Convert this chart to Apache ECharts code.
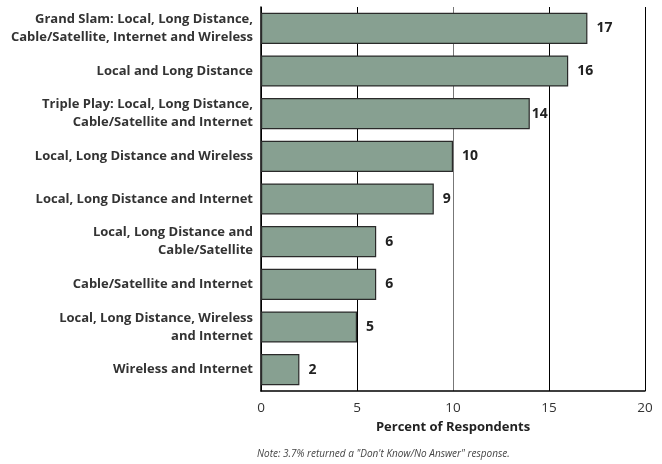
<!DOCTYPE html>
<html><head><meta charset="utf-8">
<script src="https://cdn.jsdelivr.net/npm/echarts@6/dist/echarts.min.js"></script>
<style>html,body{margin:0;padding:0;background:#fff}#c{width:662px;height:464px}</style>
</head><body><div id="c"></div>
<script>
var categories = [
  "Grand Slam: Local, Long Distance,\nCable/Satellite, Internet and Wireless",
  "Local and Long Distance",
  "Triple Play: Local, Long Distance,\nCable/Satellite and Internet",
  "Local, Long Distance and Wireless",
  "Local, Long Distance and Internet",
  "Local, Long Distance and\nCable/Satellite",
  "Cable/Satellite and Internet",
  "Local, Long Distance, Wireless\nand Internet",
  "Wireless and Internet"
];
var values = [17, 16, 14, 10, 9, 6, 6, 5, 2];
var xTicks = [0, 5, 10, 15, 20];
var axisTitle = "Percent of Respondents";
var noteText = "Note: 3.7% returned a \"Don't Know/No Answer\" response.";

var FONT = "'Open Sans', sans-serif";
var chart = echarts.init(document.getElementById('c'));
chart.setOption({
  animation: false,
  grid: {left: 261, right: 17, top: 7, bottom: 73, containLabel: false},
  xAxis: {
    type: 'value', min: xTicks[0], max: xTicks[xTicks.length-1], interval: 5,
    axisLine: {show: true, lineStyle: {color: '#000', width: 1.5}},
    axisTick: {show: false},
    axisLabel: {color: '#333', fontSize: 13.5, fontFamily: FONT, margin: 10},
    splitLine: {show: true, lineStyle: {color: ['#000','#000','#777','#000','#000'], width: 1}},
    name: axisTitle, nameLocation: 'middle', nameGap: 30,
    nameTextStyle: {color: '#222', fontSize: 13, fontWeight: 'bold', fontFamily: FONT}
  },
  yAxis: {
    type: 'category', data: categories, inverse: true,
    axisLine: {show: true, lineStyle: {color: '#000', width: 1.5}},
    axisTick: {show: false},
    axisLabel: {color: '#333', fontSize: 13, fontWeight: 'bold', fontFamily: FONT, margin: 8, lineHeight: 18, align: 'right'}
  },
  series: [{
    type: 'bar',
    data: values.map(function(v, i){
      return {value: v, label: {distance: v === 14 ? 2 : 9}};
    }),
    barCategoryGap: '27%',
    itemStyle: {color: '#87a091', borderColor: '#2a2a2a', borderWidth: 1.2},
    label: {show: true, position: 'right', color: '#222', fontSize: 14, fontWeight: 'bold', fontFamily: FONT}
  }],
  graphic: [{
    type: 'text', left: 257, top: 449,
    style: {text: noteText, fontSize: 10, fontStyle: 'italic', fill: '#444', fontFamily: FONT}
  }]
});
</script></body></html>
